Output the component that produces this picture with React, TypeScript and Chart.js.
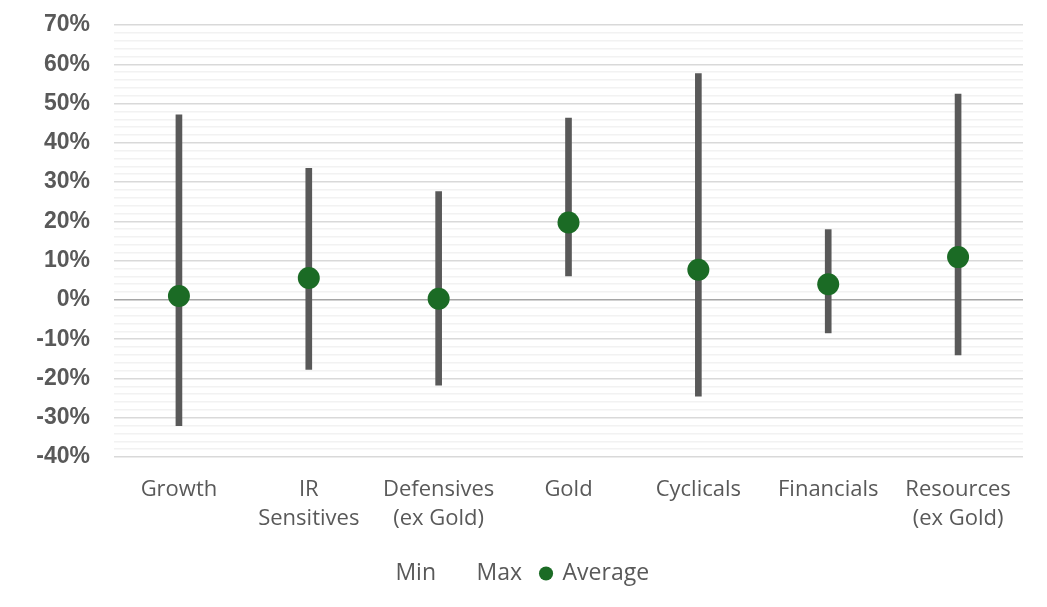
import React, { useEffect, useRef } from "react";
import { Chart, registerables } from "chart.js";

Chart.register(...registerables);

const categories: (string | string[])[] = [
  "Growth",
  ["IR", "Sensitives"],
  ["Defensives", "(ex Gold)"],
  "Gold",
  "Cyclicals",
  "Financials",
  ["Resources", "(ex Gold)"],
];
const minValues = [-32.0, -17.7, -21.7, 6.1, -24.5, -8.4, -14.0];
const maxValues = [47.1, 33.5, 27.6, 46.3, 57.6, 17.9, 52.4];
const avgValues = [1.0, 5.6, 0.3, 19.7, 7.7, 4.0, 10.9];

const GREEN = "#1b6b25";
const GREY = "#595959";
const FONT = "'Open Sans', sans-serif";

export default function App() {
  const ref = useRef<HTMLCanvasElement | null>(null);

  useEffect(() => {
    document.body.style.margin = "0";
    const canvas = ref.current;
    if (!canvas) return;
    const ranges = minValues.map((m, i) => [m, maxValues[i]]);
    const chart = new Chart(canvas, {
      data: {
        labels: categories as any,
        datasets: [
          {
            type: "line",
            label: "Min",
            data: minValues,
            showLine: false,
            pointRadius: 0,
            pointHoverRadius: 0,
            backgroundColor: "rgba(0,0,0,0)",
            borderColor: "rgba(0,0,0,0)",
            order: 0,
          },
          {
            type: "line",
            label: "Max",
            data: maxValues,
            showLine: false,
            pointRadius: 0,
            pointHoverRadius: 0,
            backgroundColor: "rgba(0,0,0,0)",
            borderColor: "rgba(0,0,0,0)",
            order: 0,
          },
          {
            type: "line",
            label: "Average",
            data: avgValues,
            showLine: false,
            pointRadius: 11,
            pointHoverRadius: 11,
            pointStyle: "circle",
            backgroundColor: GREEN,
            borderColor: GREEN,
            borderWidth: 0,
            order: 1,
          },
          {
            type: "bar",
            label: "range",
            data: ranges as any,
            backgroundColor: GREY,
            borderWidth: 0,
            barThickness: 6,
            grouped: false,
            order: 2,
          },
        ] as any,
      },
      options: {
        responsive: false,
        animation: false,
        layout: { padding: { top: 25, right: 24, bottom: 12, left: 0 } },
        plugins: {
          tooltip: { enabled: false },
          legend: {
            position: "bottom",
            labels: {
              filter: (item: any) => item.text !== "range",
              usePointStyle: true,
              pointStyle: "circle",
              boxWidth: 10,
              boxHeight: 10,
              padding: 19,
              color: GREY,
              font: { family: FONT, size: 23 },
            },
          },
        },
        scales: {
          x: {
            grid: { display: false, drawTicks: false },
            border: { display: false },
            ticks: {
              color: GREY,
              font: { family: FONT, size: 22, lineHeight: 1.32 },
              padding: 18,
              maxRotation: 0,
              autoSkip: false,
            },
            afterFit: (s: any) => {
              s.height = 86;
              s.paddingLeft = 0;
              s.paddingRight = 0;
            },
          },
          y: {
            min: -40,
            max: 70,
            border: { display: false },
            grid: {
              drawTicks: false,
              lineWidth: 1.5,
              color: (ctx: any) => {
                const v = Math.round(ctx.tick.value);
                if (v === 0) return "#a6a6a6";
                if (v % 10 === 0) return "#d9d9d9";
                return "#f2f2f2";
              },
            },
            ticks: {
              stepSize: 2,
              autoSkip: false,
              padding: 24,
              color: GREY,
              font: { family: "'Liberation Sans', Arial, sans-serif", size: 23, weight: "bold" },
              callback: (v: any) => {
                const n = Math.round(Number(v));
                return n % 10 === 0 ? n + "%" : "";
              },
            },
            afterFit: (s: any) => {
              s.width = 114;
              s.paddingTop = 0;
              s.paddingBottom = 0;
            },
          },
        },
      } as any,
    });
    return () => chart.destroy();
  }, []);

  return (
    <div style={{ width: 1047, height: 607 }}>
      <canvas ref={ref} width={1047} height={607} />
    </div>
  );
}
